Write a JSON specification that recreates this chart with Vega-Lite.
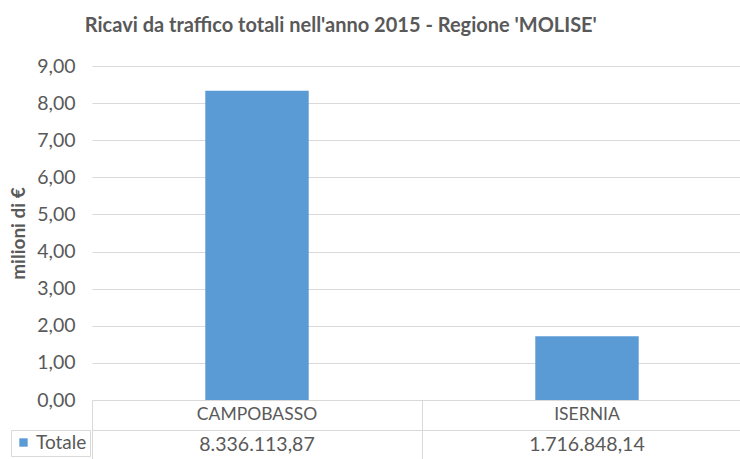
{
  "$schema": "https://vega.github.io/schema/vega-lite/v6.json",
  "autosize": {"type": "none"},
  "padding": {"left": 92, "top": 66, "right": 648, "bottom": 393},
  "bounds": "flush",
  "spacing": 0,
  "config": {
    "locale": {"number": {"decimal": ",", "thousands": ".", "grouping": [3], "currency": ["€", ""]}},
    "font": "Lato",
    "view": {"stroke": null},
    "axis": {"gridColor": "#d9d9d9", "gridWidth": 1}
  },
  "title": {
    "text": "Ricavi da traffico totali nell'anno 2015 - Regione 'MOLISE'",
    "fontSize": 20,
    "fontWeight": "bold",
    "color": "#595959",
    "anchor": "middle",
    "dx": -40,
    "offset": 20
  },
  "data": {
    "values": [
      {"provincia": "CAMPOBASSO", "serie": "Totale", "ricavi": 8336113.87},
      {"provincia": "ISERNIA", "serie": "Totale", "ricavi": 1716848.14}
    ]
  },
  "vconcat": [
    {
      "width": 660,
      "height": 334,
      "mark": {"type": "bar", "width": {"band": 0.3134}},
      "encoding": {
        "x": {
          "field": "provincia",
          "type": "nominal",
          "sort": null,
          "scale": {"paddingInner": 0, "paddingOuter": 0},
          "axis": null
        },
        "y": {
          "field": "ricavi",
          "type": "quantitative",
          "scale": {"domain": [0, 9000000], "nice": false},
          "axis": {
            "values": [0, 1000000, 2000000, 3000000, 4000000, 5000000, 6000000, 7000000, 8000000, 9000000],
            "labelExpr": "format(datum.value / 1000000, ',.2f')",
            "title": "milioni di €",
            "titleFontSize": 19,
            "titleFontWeight": "bold",
            "titleColor": "#595959",
            "titlePadding": 8,
            "labelFontSize": 19.5,
            "labelColor": "#595959",
            "labelPadding": 17,
            "ticks": false,
            "tickSize": 0,
            "domain": false,
            "grid": true
          }
        },
        "color": {
          "field": "serie",
          "type": "nominal",
          "scale": {"range": ["#5B9BD5"]},
          "legend": {
            "title": null,
            "orient": "none",
            "legendX": -81,
            "legendY": 364,
            "symbolType": "square",
            "symbolSize": 70,
            "symbolStrokeWidth": 0,
            "labelFontSize": 19,
            "labelColor": "#595959",
            "labelOffset": 3,
            "strokeColor": "#d9d9d9",
            "padding": 3
          }
        }
      }
    },
    {
      "width": 660,
      "height": 59,
      "layer": [
        {
          "mark": {"type": "text", "fontSize": 17.5, "color": "#595959"},
          "encoding": {
            "x": {
              "field": "provincia",
              "type": "nominal",
              "sort": null,
              "scale": {"paddingInner": 0, "paddingOuter": 0},
              "axis": {"title": null, "labels": false, "ticks": false, "domain": false, "grid": true, "tickBand": "extent"}
            },
            "y": {
              "datum": "categoria",
              "type": "nominal",
              "scale": {"domain": ["categoria", "Totale"], "paddingInner": 0, "paddingOuter": 0},
              "axis": {"title": null, "labels": false, "ticks": false, "domain": false, "grid": true, "tickBand": "extent"}
            },
            "text": {"field": "provincia"}
          }
        },
        {
          "mark": {"type": "text", "fontSize": 19.5, "color": "#595959", "dy": 1},
          "encoding": {
            "x": {"field": "provincia", "type": "nominal", "sort": null},
            "y": {"datum": "Totale", "type": "nominal"},
            "text": {"field": "ricavi", "type": "quantitative", "format": ",.2f"}
          }
        }
      ]
    }
  ]
}
